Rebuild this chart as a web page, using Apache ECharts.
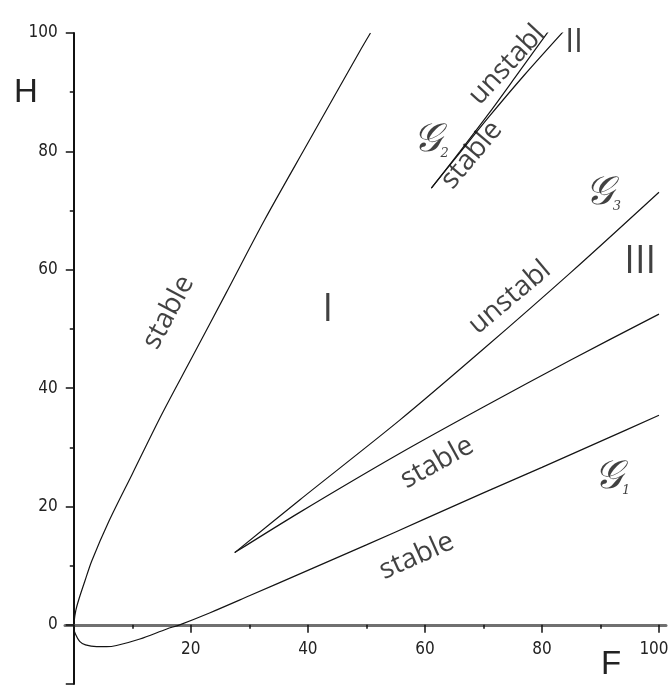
<!DOCTYPE html>
<html>
<head>
<meta charset="utf-8">
<script src="https://cdn.jsdelivr.net/npm/echarts@6/dist/echarts.min.js"></script>
<style>
  html, body { margin: 0; padding: 0; background: #ffffff; }
  #chart { width: 672px; height: 687px; }
</style>
</head>
<body>
<div id="chart"></div>
<script>
// Curve G1: upper branch from the top down to the origin, then the lower branch
const g1Curve = [
  [50.7, 100], [48.8, 96.8], [40, 81.4], [32.6, 68.4], [26, 56.0], [20.1, 45.0],
  [15, 35.5], [10, 25.5], [6, 17.5], [3.07, 10.8], [1.9, 7.4], [0.9, 4.4],
  [0.34, 2.4], [0.05, 0.5], [0.0, -0.6], [0.3, -1.6], [1.0, -2.8], [2.0, -3.4],
  [3.9, -3.7], [5.6, -3.7], [7.3, -3.5], [11.3, -2.4], [15.9, -0.7], [18.1, 0],
  [23.2, 2.0], [30, 4.9], [40, 9.2], [50, 13.5], [60, 17.9], [70, 22.3],
  [80, 26.6], [90, 31.0], [100, 35.4]
];
// Curve G2: two branches leaving the cusp
const g2Unstable = [[61.1, 73.8], [66, 80.0], [71, 86.5], [76, 93.3], [81.2, 100.4]];
const g2Stable = [[61.1, 73.8], [66, 79.8], [71, 85.9], [77, 92.9], [83.8, 100.4]];
// Curve G3: two branches leaving the cusp
const g3Unstable = [[27.5, 12.2], [38.6, 21.1], [55.6, 34.5], [70, 46.6], [85, 59.6], [100, 73.1]];
const g3Stable = [[27.5, 12.2], [38.6, 19.0], [55.6, 28.9], [70, 36.8], [85, 44.8], [100, 52.5]];

// Axis ticks and labels
const majorTicksX = [0, 20, 40, 60, 80, 100];
const labelValuesX = [20, 40, 60, 80, 100];
const minorTicksX = [10, 30, 50, 70, 90];
const majorTicksY = [-10, 0, 20, 40, 60, 80, 100];
const labelValuesY = [0, 20, 40, 60, 80, 100];
const minorTicksY = [10, 30, 50, 70, 90];

// Annotation texts
const regionNames = ['I', 'II', 'III'];
const stabilityTexts = ['stable', 'unstabl', 'stable', 'unstabl', 'stable', 'stable'];
const curveNames = ['1', '2', '3'];

// Where each annotation sits (data coordinates) and how it is turned
const regionAnchors = [
  { at: [43.4, 53.1], size: 38 },
  { at: [85.5, 98.3], size: 32 },
  { at: [96.8, 61.3], size: 38 }
];
const stabilityAnchors = [
  { at: [16.2, 52.8], rotate: 62 },
  { at: [74.0, 94.6], rotate: 47 },
  { at: [68.0, 79.4], rotate: 50 },
  { at: [74.5, 55.3], rotate: 40 },
  { at: [62.1, 27.4], rotate: 29 },
  { at: [58.6, 11.6], rotate: 24 }
];
const curveNameAnchors = [[92.0, 24.9], [61.0, 81.9], [90.4, 72.9]];

// Plot frame: F runs from X_LINE_MIN (left end of the F axis line) to X_MAX, H from Y_MIN to Y_MAX
const X_LINE_MIN = -1.5, X_MAX = 101.2, Y_MIN = -10, Y_MAX = 100;
const FRAME = { left: 65, right: 666, top: 33, bottom: 684 };
const pxPerX = (FRAME.right - FRAME.left) / (X_MAX - X_LINE_MIN);
const pxPerY = (FRAME.bottom - FRAME.top) / (Y_MAX - Y_MIN);
const xZeroPx = FRAME.left - X_LINE_MIN * pxPerX;
const yZeroPx = FRAME.top + Y_MAX * pxPerY;

const tickFont = "'DejaVu Sans Condensed', 'Liberation Sans Narrow', sans-serif";
const textFont = "'Open Sans', 'Noto Sans', sans-serif";
const curveStyle = { color: '#141414', width: 1.2 };
const tickLine = { color: '#111', width: 1.5 };

function curveSeries(data) {
  return {
    type: 'line', xAxisIndex: 0, yAxisIndex: 0, data: data,
    showSymbol: false, symbol: 'none', smooth: 0.3, silent: true,
    lineStyle: curveStyle, z: 3
  };
}

// grid 0/1: data area whose left edge is F = 0 (H axis sits there)
const dataGrid = {
  left: xZeroPx, top: FRAME.top, width: FRAME.right - xZeroPx, height: FRAME.bottom - FRAME.top,
  containLabel: false, outerBoundsMode: 'none'
};
// grid 2/3: area whose bottom edge is H = 0 (F axis sits there)
const fGrid = {
  left: FRAME.left, top: FRAME.top, width: FRAME.right - FRAME.left, height: yZeroPx - FRAME.top,
  containLabel: false, outerBoundsMode: 'none'
};

const hidden = { show: false };
function hiddenAxis(gridIndex, min, max) {
  return {
    type: 'value', gridIndex: gridIndex, min: min, max: max, show: false,
    axisLine: { show: false, onZero: false }, axisTick: hidden, axisLabel: hidden, splitLine: hidden
  };
}

const tickText = { color: '#222', fontFamily: tickFont, fontSize: 17 };

const option = {
  animation: false,
  backgroundColor: '#ffffff',
  grid: [dataGrid, dataGrid, fGrid, fGrid].map(g => Object.assign({}, g)),
  xAxis: [
    hiddenAxis(0, 0, X_MAX),
    hiddenAxis(1, 0, X_MAX),
    {
      type: 'value', gridIndex: 2, min: X_LINE_MIN, max: X_MAX, position: 'bottom',
      axisLine: { show: true, onZero: false, lineStyle: { color: '#707070', width: 3 } },
      axisTick: { show: true, length: 8, customValues: majorTicksX, lineStyle: tickLine },
      axisLabel: Object.assign({
        show: true, customValues: labelValuesX, margin: 16,
        // the last label is nudged left so it stays inside the canvas
        formatter: v => v === X_MAX - X_MAX % 20 ? '{end|' + v + '}' : String(v),
        rich: { end: Object.assign({ padding: [0, 10, 0, 0] }, tickText) }
      }, tickText),
      splitLine: hidden
    },
    {
      type: 'value', gridIndex: 3, min: X_LINE_MIN, max: X_MAX, position: 'bottom',
      axisLine: { show: false, onZero: false },
      axisTick: { show: true, length: 4, customValues: minorTicksX, lineStyle: tickLine },
      axisLabel: hidden,
      splitLine: hidden
    }
  ],
  yAxis: [
    {
      type: 'value', gridIndex: 0, min: Y_MIN, max: Y_MAX, position: 'left',
      axisLine: { show: true, onZero: false, lineStyle: { color: '#111', width: 2 } },
      axisTick: { show: true, length: 8, customValues: majorTicksY, lineStyle: tickLine },
      axisLabel: Object.assign({ show: true, customValues: labelValuesY, margin: 16 }, tickText),
      splitLine: hidden
    },
    {
      type: 'value', gridIndex: 1, min: Y_MIN, max: Y_MAX, position: 'left',
      axisLine: { show: false, onZero: false },
      axisTick: { show: true, length: 4, customValues: minorTicksY, lineStyle: tickLine },
      axisLabel: hidden,
      splitLine: hidden
    },
    hiddenAxis(2, 0, Y_MAX),
    hiddenAxis(3, 0, Y_MAX)
  ],
  graphic: [
    { type: 'text', left: 14, top: 76, style: { text: 'H', fontFamily: "'Liberation Sans', Arial, sans-serif", fontSize: 33, fill: '#222' } },
    { type: 'text', left: 601, top: 648, style: { text: 'F', fontFamily: "'Liberation Sans', Arial, sans-serif", fontSize: 33, fill: '#222' } }
  ],
  series: [
    curveSeries(g1Curve),
    curveSeries(g2Unstable),
    curveSeries(g2Stable),
    curveSeries(g3Unstable),
    curveSeries(g3Stable),
    {
      // region numerals
      type: 'scatter', xAxisIndex: 0, yAxisIndex: 0, symbolSize: 0, silent: true, z: 4,
      data: regionNames.map((t, i) => ({
        value: regionAnchors[i].at, name: t,
        label: { fontSize: regionAnchors[i].size }
      })),
      label: {
        show: true, position: 'inside', formatter: p => p.name,
        color: '#111', fontFamily: textFont, fontWeight: 'normal'
      }
    },
    {
      // stability annotations along the branches
      type: 'scatter', xAxisIndex: 0, yAxisIndex: 0, symbolSize: 0, silent: true, z: 4,
      data: stabilityTexts.map((t, i) => ({
        value: stabilityAnchors[i].at, name: t,
        label: { rotate: stabilityAnchors[i].rotate }
      })),
      label: {
        show: true, position: 'inside', formatter: p => p.name,
        color: '#111', fontFamily: textFont, fontSize: 28
      }
    },
    {
      // curve names
      type: 'scatter', xAxisIndex: 0, yAxisIndex: 0, symbolSize: 0, silent: true, z: 4,
      data: curveNames.map((t, i) => ({ value: curveNameAnchors[i], name: t })),
      label: {
        show: true, position: 'inside',
        formatter: p => '{g|\u{1D4A2}}{s|' + p.name + '}',
        rich: {
          g: { fontFamily: "'DejaVu Serif', 'DejaVu Sans', serif", fontStyle: 'italic', fontSize: 40, color: '#111' },
          s: { fontFamily: "'DejaVu Serif', serif", fontStyle: 'italic', fontSize: 13, color: '#111', verticalAlign: 'bottom', padding: [18, 0, 0, 0] }
        }
      }
    }
  ]
};

const chart = echarts.init(document.getElementById('chart'), null, { renderer: 'canvas' });
chart.setOption(option);
</script>
</body>
</html>
